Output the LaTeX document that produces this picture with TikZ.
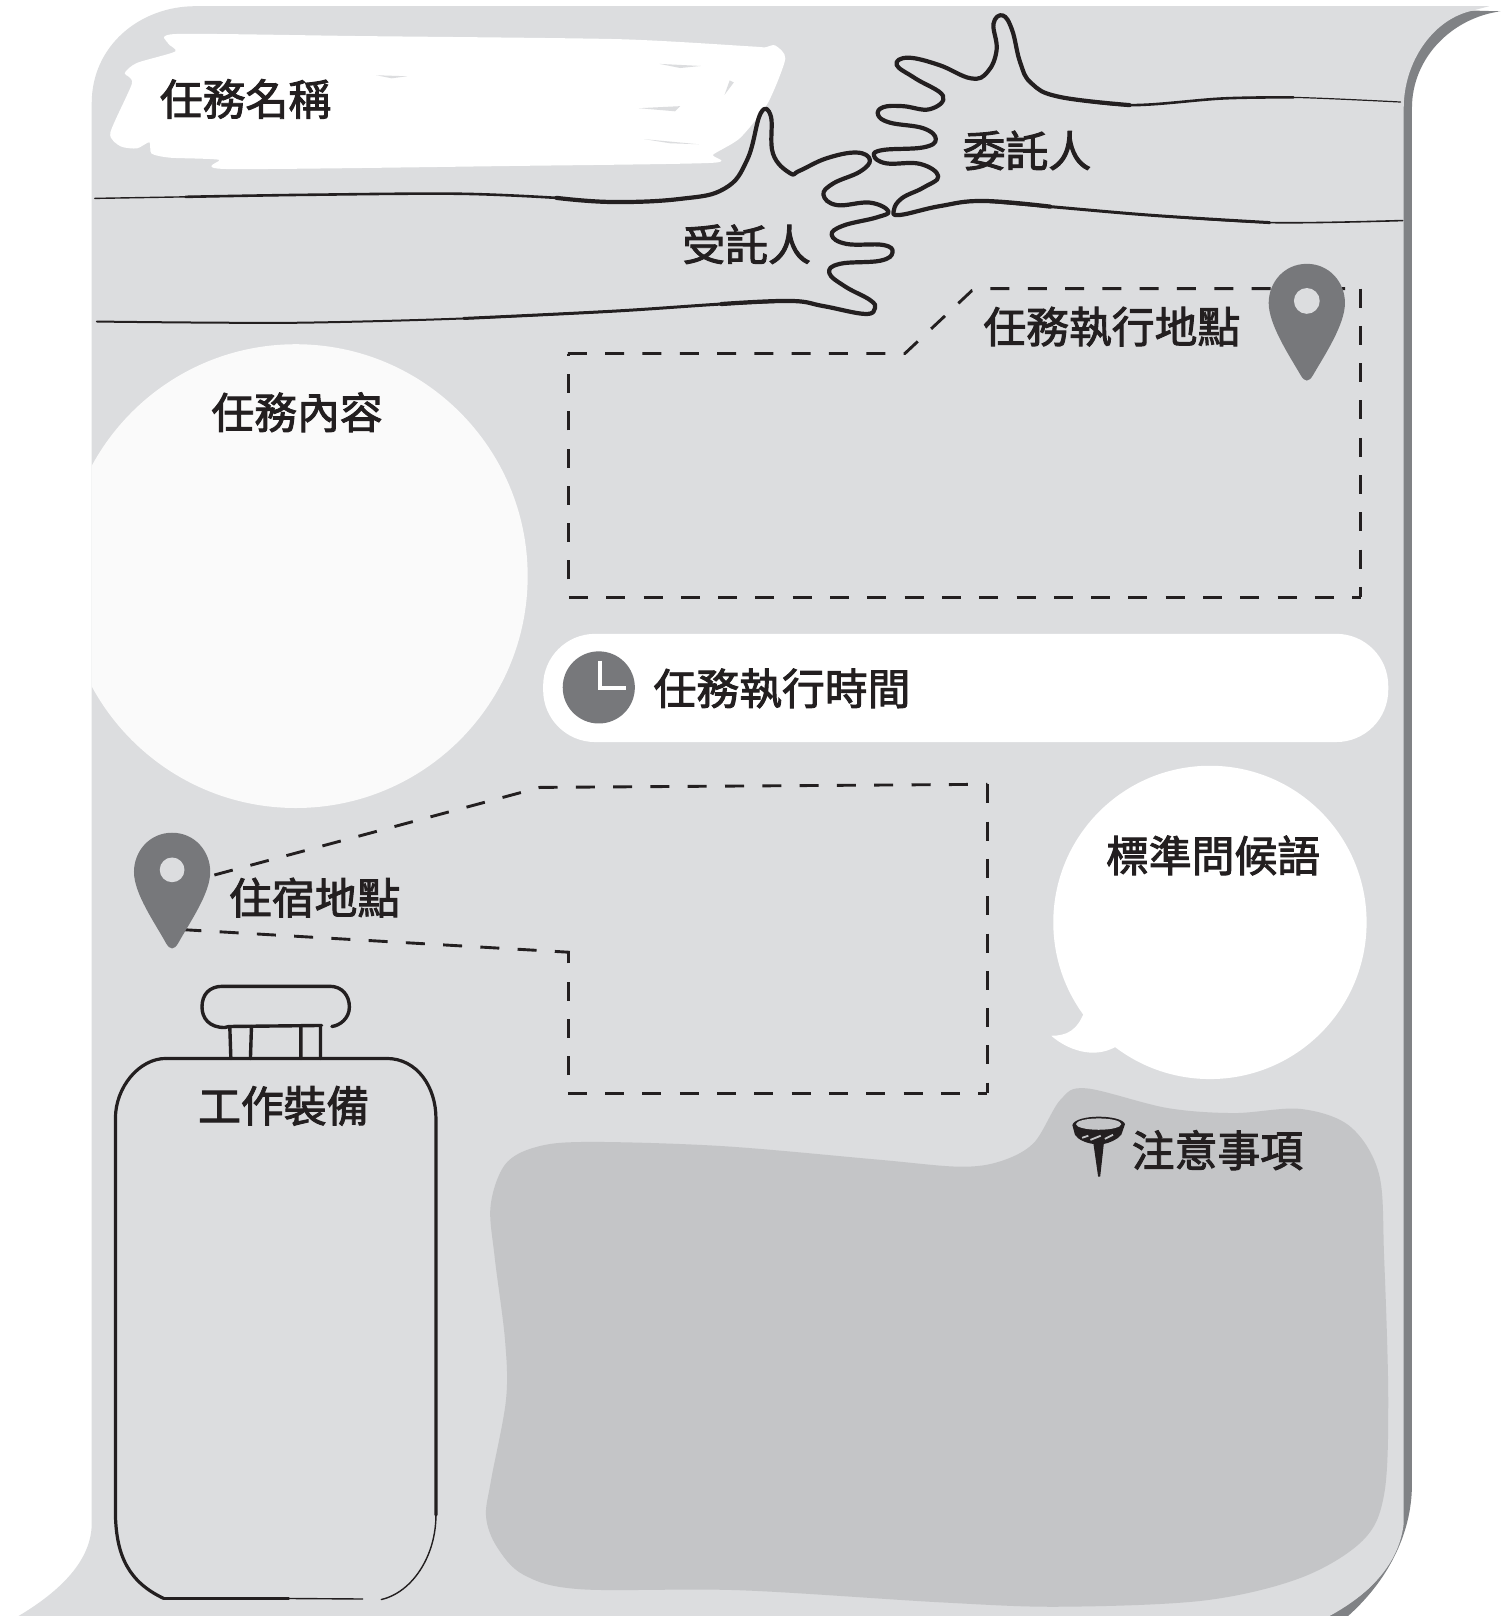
\documentclass[tikz,border=0pt]{standalone}
\usepackage{fontspec}
\newfontfamily\cjk[FakeBold=2.2]{Noto Sans CJK TC}
\definecolor{bgc}{HTML}{DCDDDF}
\definecolor{bandc}{HTML}{808285}
\definecolor{pinc}{HTML}{77787B}
\definecolor{blobc}{HTML}{C4C5C7}
\definecolor{inkc}{HTML}{231F20}
\definecolor{softc}{HTML}{FAFAFA}
\tikzset{
 lbl/.style={anchor=west,inner sep=0pt,text=inkc,font=\cjk\fontsize{42.8}{44}\selectfont},
 ink/.style={draw=inkc,line cap=round,line join=round},
 dashbox/.style={draw=inkc,line width=2.9pt,dash pattern=on 19pt off 18.3pt},
 pinshape/.style={fill=pinc,draw=none},
}
\begin{document}
\begin{tikzpicture}[x=1.0306pt,y=-1.0306pt]
\useasboundingbox (0,0) rectangle (1466.1,1568);
\fill[white] (0,0) rectangle (1466.1,1568);
% band
\fill[bandc] (1456,11) -- (1420,10) .. controls (1385,22) and (1360,60) .. (1360,105) -- (1360,1475) .. controls (1358,1515) and (1330,1550) .. (1285,1568) -- (1308,1568) .. controls (1345,1535) and (1370,1490) .. (1370,1440) -- (1370,105) .. controls (1370,55) and (1410,17) .. (1456,11) -- cycle;
% background
\fill[bgc] (190,6) -- (1445,6) -- (1426,11) .. controls (1390,20) and (1362,60) .. (1362,105) -- (1362,1478) .. controls (1358,1515) and (1332,1545) .. (1290,1568) -- (18,1568) .. controls (65,1540) and (89,1510) .. (89,1478) -- (89,100) .. controls (89,45) and (135,6) .. (190,6) -- cycle;
% content circle
\begin{scope}
\clip (89,300) rectangle (600,800);
\fill[softc] (287,559) circle (225);
\end{scope}
% title blob
\fill[white] plot[smooth cycle,tension=0.4] coordinates {
(163,42) (171,33) (350,35) (600,38) (728,45) (742,46) (752,44) (762,57) (745,100) (718,134) (692,150) (691,158) (500,161) (220,164) (212,155) (165,153) (147,149) (145,138) (133,144) (117,142) (107,129) (128,81) (121,71) (133,61) (170,50)};
\fill[bgc] (640,62) -- (680,64) -- (660,66) -- cycle;
\fill[bgc] (620,105) -- (660,103) -- (655,108) -- cycle;
\fill[bgc] (625,135) -- (678,140) -- (650,139) -- cycle;
\fill[bgc] (712,80) -- (703,92) -- (708,78) -- cycle;
\fill[bgc] (365,73) -- (395,74) -- (380,76) -- cycle;
% note blob
\fill[blobc] plot[smooth cycle,tension=0.55] coordinates {
(476,1170) (490,1130) (520,1113) (570,1108) (700,1112) (850,1125) (930,1132) (970,1127) (1003,1109) (1029,1067) (1054,1056) (1132,1075) (1197,1080) (1262,1076) (1310,1093) (1338,1139) (1343,1220) (1347,1358) (1343,1450) (1322,1495) (1262,1531) (1168,1553) (1028,1559) (912,1554.7) (718,1543) (563,1542) (508,1528) (482,1500.7) (471.6,1471.6) (476.5,1436) (491,1358) (490,1300) (480,1220)};
% hand lines
\draw[ink,line width=1.4pt] plot[smooth,tension=0.6] coordinates {(92,192.5) (180,191) (300,189)};
\draw[ink,line width=2.6pt] plot[smooth,tension=0.6] coordinates {(180,191) (300,189) (445,188) (540,192)};
\draw[ink,line width=4.2pt] plot[smooth,tension=0.7] coordinates {(540,192) (594,196) (660,193) (703,183) (725,155) (738,110) (748,113) (750,149) (766.5,168) (776,165.6) (802,153.6) (831,148) (844,155) (834.5,166.5) (808.5,178) (799,189) (812,199) (844,196.6) (862,205) (850.5,211) (818,219) (807,228) (821.5,236.7) (857,237.7) (866,245) (854,253) (815,256) (804.7,265) (820,278) (844,291) (849,299) (839,304.6) (799,297) (766.5,292) (700,295)};
\draw[ink,line width=3pt] plot[smooth,tension=0.6] coordinates {(766.5,292) (700,295) (594,302) (450,309)};
\draw[ink,line width=2pt] plot[smooth,tension=0.6] coordinates {(594,302) (450,309) (300,313) (198,313) (94,312)};
\draw[ink,line width=4.2pt] plot[smooth,tension=0.7] coordinates {(1096,102) (1028,94) (1001,81) (990,61) (982,29) (973,15) (964,23) (967,48.5) (958,70) (942,76) (911,63) (881,56) (870,63) (888,76) (915,93) (902,106) (876,103) (857,104) (852,111.5) (863.5,119) (896,124.5) (908,135) (896,143) (857,145.5) (848,151) (860,158.5) (892.6,159) (910.4,171) (896,182) (875,192.4) (867.4,203.7) (873,208.6) (912,200) (954,195) (1019,200.5)};
\draw[ink,line width=2.6pt] plot[smooth,tension=0.6] coordinates {(1028,94) (1096,102) (1187,95.5) (1255,94.5)};
\draw[ink,line width=1.2pt] plot[smooth,tension=0.6] coordinates {(1187,95.5) (1255,94.5) (1359,99)};
\draw[ink,line width=3pt] plot[smooth,tension=0.6] coordinates {(954,195) (1019,200.5) (1119,209) (1232,216)};
\draw[ink,line width=1.6pt] plot[smooth,tension=0.6] coordinates {(1119,209) (1232,216) (1361,214)};
% dashed frames
\draw[dashbox] (551,343) -- (878,343) -- (943,282) -- (958,280) -- (1320,280);
\draw[dashbox] (1320,280) -- (1320,579.5);
\draw[dashbox] (552,579.5) -- (1321,579.5);
\draw[dashbox,dash phase=19pt] (551.5,580) -- (551.5,343);
\draw[dashbox] (208,849) -- (524,764) -- (958,761);
\draw[dashbox] (958,761) -- (958,1061);
\draw[dashbox] (551,1061) -- (958,1061);
\draw[dashbox,dash phase=19pt] (551.5,1061) -- (551.5,924);
\draw[dashbox] (177,902) -- (553,924);
% pins
\fill[pinshape] (1268,256) .. controls (1290,256) and (1305,274) .. (1305,294) .. controls (1305,315) and (1285,345) .. (1274,364) .. controls (1270,371) and (1266,371) .. (1262,364) .. controls (1251,345) and (1231,315) .. (1231,294) .. controls (1231,274) and (1246,256) .. (1268,256) -- cycle;
\fill[bgc] (1268,292) circle (12.5);
\fill[pinshape] (167,808) .. controls (189,808) and (204,826) .. (204,846) .. controls (204,867) and (184,895) .. (173,915) .. controls (169,922) and (165,922) .. (161,915) .. controls (150,895) and (130,867) .. (130,846) .. controls (130,826) and (145,808) .. (167,808) -- cycle;
\fill[bgc] (167,844) circle (12);
% time pill
\fill[white,rounded corners=52] (527,615) rectangle (1347,720);
\fill[pinc] (581,667) circle (35);
\draw[white,line width=4pt] (582,641) -- (582,668) -- (607,668);
% speech bubble
\fill[white] (1174,895) circle (152);
\fill[white] (1052,982) .. controls (1045,1000) and (1035,1005) .. (1020,1005) .. controls (1035,1018) and (1060,1028) .. (1082,1016) -- (1110,1000) -- (1080,960) -- cycle;
% suitcase
\draw[ink,line width=3.4pt] (223,997) -- (224,1027) (244,996) -- (243,1027) (292,996) -- (292,1027) (311,996) -- (311,1027);
\draw[ink,line width=3.4pt] (312,995) -- (222,996) -- (218,997) .. controls (203,997) and (196,988) .. (196,977) .. controls (196,965) and (203,957) .. (216,957) -- (320,957) .. controls (332,957) and (339,966) .. (339,977) .. controls (339,988) and (330,995) .. (322,996);
\draw[ink,line width=3.2pt] (161,1027) -- (375,1027) .. controls (405,1027) and (423,1055) .. (423,1085) -- (423,1470);
\draw[ink,line width=3.2pt] (161,1027) .. controls (135,1027) and (112,1055) .. (112,1085) -- (112,1470) .. controls (113,1510) and (125,1535) .. (159,1551);
\draw[ink,line width=3.6pt] (159,1551) -- (280,1551);
\draw[ink,line width=1.4pt] (280,1551) -- (352,1551.5);
\draw[ink,line width=1.4pt] (423,1470) .. controls (423,1510) and (400,1545) .. (370,1552);
% thumbtack
\fill[inkc] (1040.5,1091.6) .. controls (1042,1086) and (1055,1083.5) .. (1066,1083.5) .. controls (1078,1083.5) and (1090,1086) .. (1091.6,1090.7) -- (1088,1101) .. controls (1084,1106) and (1076,1109) .. (1071,1110) -- (1067.5,1141.7) -- (1065.5,1141.7) -- (1061,1110) .. controls (1054,1109) and (1046,1106) .. (1043,1101) -- cycle;
\fill[blobc] (1066,1090.7) ellipse (22 and 5.5);
\draw[blobc,line width=1.8pt] (1050,1104) -- (1056,1102) (1058,1106) -- (1068,1102) (1072,1105) -- (1080,1101) ;
% labels
\node[lbl] (t1) at (155,96) {任務名稱};
\node[lbl] (t2) at (662,237) {受託人};
\node[lbl] (t3) at (934,146) {委託人};
\node[lbl] (t4) at (954,317) {任務執行地點};
\node[lbl] (t5) at (205,400) {任務內容};
\node[lbl] (t6) at (634,668) {任務執行時間};
\node[lbl] (t7) at (1073,830) {標準問候語};
\node[lbl] (t8) at (222,871) {住宿地點};
\node[lbl] (t9) at (192,1073) {工作裝備};
\node[lbl] (t10) at (1098,1116) {注意事項};
\end{tikzpicture}
\end{document}
